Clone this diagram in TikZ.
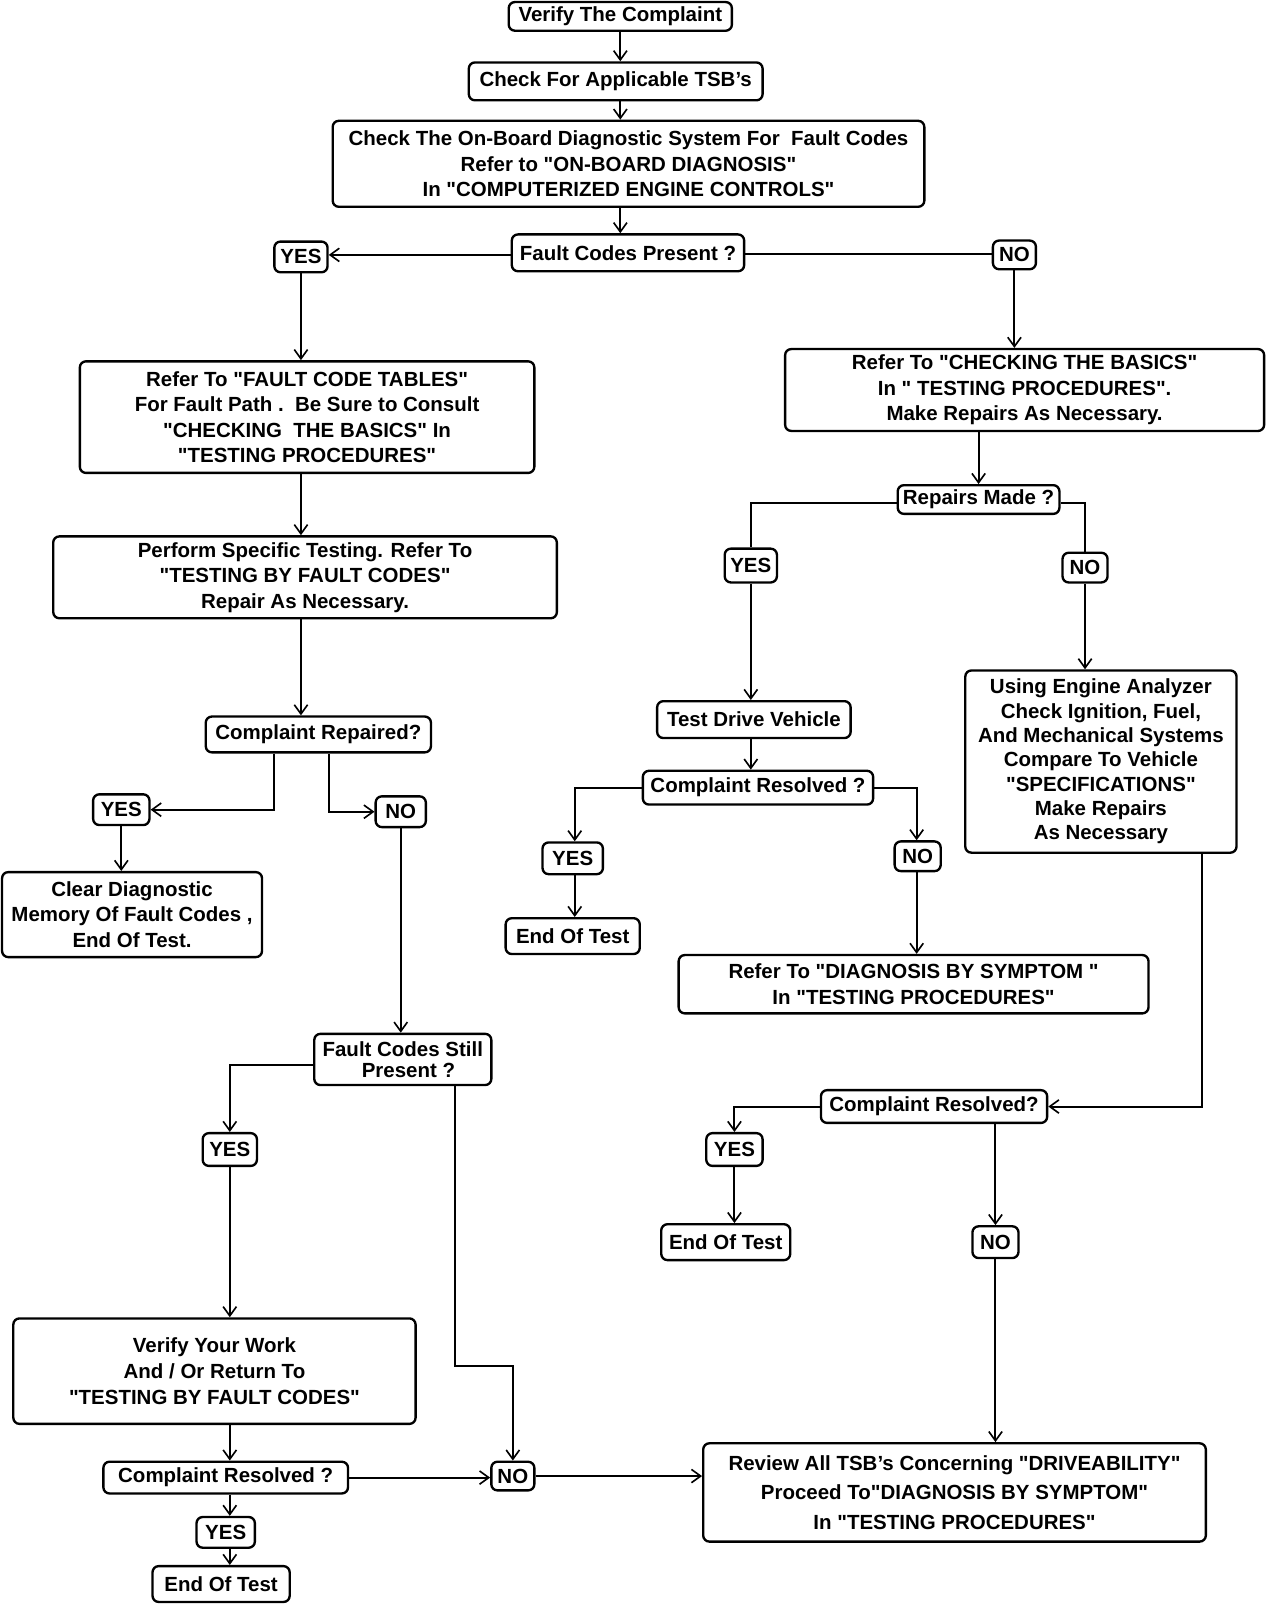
\documentclass[tikz,border=0pt]{standalone}
\usepackage{fontspec}
\setmainfont{Liberation Sans}[Ligatures=TeXOff]
\usetikzlibrary{arrows.meta,calc}
\newcommand\fs{\fontsize{20}{25}\selectfont\bfseries}
\newcommand\fsa{\fontsize{20}{23.8}\selectfont\bfseries}
\newcommand\fsb{\fontsize{20}{29}\selectfont\bfseries}
\begin{document}
\begin{tikzpicture}[x=1pt,y=-1pt,
  box/.style={draw, line width=2.3pt, rounded corners=6pt, inner sep=0pt, align=center, font=\fs},
  con/.style={line width=2pt},
  arr/.style={line width=2pt, -{Straight Barb[length=9pt,width=13pt,line width=1.6pt]}}]
\useasboundingbox (0,0) rectangle (1250,1567);
% top column
\node[box, minimum width=218pt, minimum height=28pt] (v) at (606,16) {Verify The Complaint};
\node[box, minimum width=287pt, minimum height=37pt] (tsb) at (601.5,79.5) {Check For Applicable TSB’s};
\node[box, minimum width=578pt, minimum height=84pt] (obd) at (614,160) {Check The On-Board Diagnostic System For \ Fault Codes\\Refer to "ON-BOARD DIAGNOSIS"\\In "COMPUTERIZED ENGINE CONTROLS"};
\node[box, minimum width=227pt, minimum height=36pt] (fcp) at (613.5,247) {Fault Codes Present ?};
\node[box, minimum width=52pt, minimum height=30pt] (yes1) at (294,251) {YES};
\node[box, minimum width=42pt, minimum height=28pt] (no1) at (991,249) {NO};
% left branch
\node[box, minimum width=444pt, minimum height=109pt] (ft) at (300,407.5) {Refer To "FAULT CODE TABLES"\\For Fault Path .\ \ Be Sure to Consult\\"CHECKING \ THE BASICS" In\\"TESTING PROCEDURES"};
\node[box, minimum width=492pt, minimum height=80pt] (pst) at (298,564) {Perform Specific Testing. Refer To\\"TESTING BY FAULT CODES"\\Repair As Necessary.};
\node[box, minimum width=220pt, minimum height=35pt] (crp) at (311,717.5) {Complaint Repaired?};
\node[box, minimum width=55pt, minimum height=30pt] (yes2) at (118.5,791) {YES};
\node[box, minimum width=49pt, minimum height=30pt] (no2) at (391.5,793) {NO};
\node[box, minimum width=254pt, minimum height=83pt] (clr) at (129,893.5) {Clear Diagnostic\\Memory Of Fault Codes ,\\End Of Test.};
\node[box, minimum width=173pt, minimum height=50pt, font=\fontsize{20}{21}\selectfont\bfseries] (fcs) at (393.5,1035) {Fault Codes Still\\\ \ Present ?};
\node[box, minimum width=53pt, minimum height=32pt] (yes3) at (224.5,1123) {YES};
\node[box, minimum width=393pt, minimum height=103pt] (vyw) at (209.5,1339.5) {Verify Your Work\\And / Or Return To\\"TESTING BY FAULT CODES"};
\node[box, minimum width=42pt, minimum height=28pt] (no3) at (501,1442) {NO};
\node[box, minimum width=239pt, minimum height=31pt] (cr3) at (220.5,1443.5) {Complaint Resolved ?};
\node[box, minimum width=57pt, minimum height=30pt] (yes4) at (220.5,1497) {YES};
\node[box, minimum width=134pt, minimum height=35pt] (eot3) at (216,1547.5) {End Of Test};
% right branch
\node[box, minimum width=468pt, minimum height=80pt] (cb) at (1001,381) {Refer To "CHECKING THE BASICS"\\In " TESTING PROCEDURES".\\Make Repairs As Necessary.};
\node[box, minimum width=158pt, minimum height=28pt] (rm) at (956,488) {Repairs Made ?};
\node[box, minimum width=51pt, minimum height=33pt] (yes5) at (733.5,552.5) {YES};
\node[box, minimum width=44pt, minimum height=29pt] (no5) at (1060,554.5) {NO};
\node[box, minimum width=189pt, minimum height=36pt] (tdv) at (736.5,703) {Test Drive Vehicle};
\node[box, minimum width=265pt, minimum height=178pt, font=\fsa] (ea) at (1075.5,744) {Using Engine Analyzer\\Check Ignition, Fuel,\\And Mechanical Systems\\Compare To Vehicle\\"SPECIFICATIONS"\\Make Repairs\\As Necessary};
\node[box, minimum width=225pt, minimum height=33pt] (cr1) at (740.5,769.5) {Complaint Resolved ?};
\node[box, minimum width=59pt, minimum height=31pt] (yes6) at (559.5,838.5) {YES};
\node[box, minimum width=45pt, minimum height=29pt] (no6) at (896.5,836.5) {NO};
\node[box, minimum width=131pt, minimum height=35pt] (eot1) at (559.5,914.5) {End Of Test};
\node[box, minimum width=459pt, minimum height=57pt] (ds) at (892.5,961.5) {Refer To "DIAGNOSIS BY SYMPTOM "\\In "TESTING PROCEDURES"};
\node[box, minimum width=221pt, minimum height=32pt] (cr2) at (912.5,1081) {Complaint Resolved?};
\node[box, minimum width=55pt, minimum height=32pt] (yes7) at (717.5,1123) {YES};
\node[box, minimum width=126pt, minimum height=35pt] (eot2) at (709,1213.5) {End Of Test};
\node[box, minimum width=45pt, minimum height=31pt] (no7) at (972.5,1213.5) {NO};
\node[box, minimum width=491pt, minimum height=96pt, font=\fsb] (rev) at (932.5,1458) {Review All TSB’s Concerning "DRIVEABILITY"\\Proceed To"DIAGNOSIS BY SYMPTOM"\\In "TESTING PROCEDURES"};
% connectors: top
\draw[arr] (v.south) -- (v.south |- tsb.north);
\draw[arr] (v.south |- tsb.south) -- (v.south |- obd.north);
\draw[arr] (v.south |- obd.south) -- (v.south |- fcp.north);
\draw[arr] ([yshift=-2pt]fcp.west) -- ([yshift=-2pt]fcp.west -| yes1.east);
\draw[con] ([yshift=-1pt]fcp.east) -- ([yshift=-1pt]fcp.east -| no1.west);
% left
\draw[arr] (yes1.south) -- (yes1.south |- ft.north);
\draw[arr] (yes1.south |- ft.south) -- (yes1.south |- pst.north);
\draw[arr] (yes1.south |- pst.south) -- (yes1.south |- crp.north);
\draw[arr] ([xshift=-43pt]crp.south) |- (yes2.east);
\draw[arr] ([xshift=10pt]crp.south) |- (no2.west);
\draw[arr] (yes2.south) -- (yes2.south |- clr.north);
\draw[arr] (no2.south) -- (no2.south |- fcs.north);
\draw[arr] ([yshift=-5pt]fcs.west) -| (yes3.north);
\draw[arr] (yes3.south) -- (yes3.south |- vyw.north);
\draw[arr] ([xshift=51pt]fcs.south) -- ++(0,273) -| (no3.north);
\draw[arr] (yes3.south |- vyw.south) -- (yes3.south |- cr3.north);
\draw[arr] (cr3.east) -- (cr3.east -| no3.west);
\draw[arr] (no3.east) -- (no3.east -| rev.west);
\draw[arr] (yes3.south |- cr3.south) -- (yes3.south |- yes4.north);
\draw[arr] (yes3.south |- yes4.south) -- (yes3.south |- eot3.north);
% right
\draw[arr] (no1.south) -- (no1.south |- cb.north);
\draw[arr] (rm.north |- cb.south) -- (rm.north);
\draw[con] ([yshift=-3pt]rm.west) -| (yes5.north);
\draw[con] ([yshift=-3pt]rm.east) -| (no5.north);
\draw[arr] (yes5.south) -- (yes5.south |- tdv.north);
\draw[arr] (no5.south) -- (no5.south |- ea.north);
\draw[arr] (yes5.south |- tdv.south) -- (yes5.south |- cr1.north);
\draw[arr] (cr1.west) -| ([xshift=2pt]yes6.north);
\draw[arr] (cr1.east) -| ([xshift=-1pt]no6.north);
\draw[arr] ([xshift=2pt]yes6.south) -- ([xshift=2pt]yes6.south |- eot1.north);
\draw[arr] ([xshift=-1pt]no6.south) -- ([xshift=-1pt]no6.south |- ds.north);
\draw[arr] ([xshift=98.5pt]ea.south) |- (cr2.east);
\draw[arr] (cr2.west) -| (yes7.north);
\draw[arr] (yes7.south) -- (yes7.south |- eot2.north);
\draw[arr] (no7.north |- cr2.south) -- (no7.north);
\draw[arr] (no7.south) -- (no7.south |- rev.north);
\end{tikzpicture}
\end{document}
